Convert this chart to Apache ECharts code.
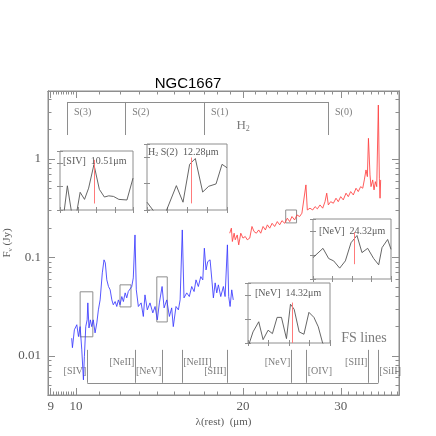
<!DOCTYPE html>
<html><head><meta charset="utf-8">
<script src="https://cdn.jsdelivr.net/npm/echarts@6/dist/echarts.min.js"></script>
<style>html,body{margin:0;padding:0;background:#fff}#c{width:436px;height:436px}</style>
</head><body><div id="c"></div>
<script>
// ---------------- data ----------------
const blueWave = [9.82,9.85,9.93,10.03,10.10,10.17,10.24,10.31,10.35,10.41,
  10.47,10.50,10.55,10.61,10.67,10.74,10.82,10.90,10.97,11.05,
  11.15,11.23,11.29,11.36,11.44,11.52,11.60,11.67,11.76,11.84,
  11.92,12.00,12.09,12.17,12.26,12.34,12.42,12.51,12.60,12.68,
  12.77,12.84,12.95,13.10,13.22,13.31,13.44,13.59,13.75,13.88,
  14.01,14.13,14.29,14.41,14.57,14.73,14.87,14.97,15.14,15.29,
  15.40,15.54,15.65,15.83,16.00,16.16,16.32,16.45,16.61,16.78,
  16.92,17.03,17.15,17.27,17.44,17.57,17.68,17.81,17.93,18.05,
  18.23,18.43,18.56,18.74,18.84,18.95,19.08,19.20];
const blueFlux = [0.0151,0.0121,0.0184,0.0207,0.0157,0.0198,0.0115,0.0057,0.0098,0.0198,
  0.0232,0.0345,0.0192,0.0232,0.0198,0.0232,0.0171,0.0216,0.0293,0.0370,
  0.0696,0.0944,0.0880,0.0591,0.0506,0.0468,0.0370,0.0330,0.0356,0.0317,
  0.0370,0.0330,0.0400,0.0356,0.0436,0.0388,0.0450,0.0436,0.0506,0.0619,
  0.169,0.0468,0.0317,0.0345,0.0251,0.0416,0.0293,0.0345,0.0273,0.0317,
  0.0232,0.0345,0.0506,0.0307,0.0370,0.0251,0.0307,0.0198,0.0317,0.0293,
  0.0370,0.190,0.0388,0.0436,0.0400,0.0506,0.0450,0.0591,0.0506,0.0638,
  0.0591,0.124,0.0746,0.0906,0.0944,0.0591,0.0388,0.0551,0.0436,0.0526,
  0.0400,0.0506,0.0400,0.134,0.0400,0.0317,0.0468,0.0370];
const redWave = [18.92,19.05,19.13,19.27,19.36,19.52,19.64,19.81,19.99,20.18,
  20.35,20.56,20.75,20.93,21.13,21.34,21.52,21.73,21.94,22.12,
  22.34,22.56,22.80,23.05,23.28,23.50,23.77,24.03,24.27,24.50,
  24.77,25.01,25.29,25.53,25.74,25.96,26.11,26.40,26.70,26.96,
  27.22,27.52,27.83,28.10,28.30,28.49,28.77,29.09,29.41,29.69,
  29.99,30.31,30.66,30.95,31.26,31.60,31.96,32.26,32.58,32.86,
  33.08,33.31,33.50,33.65,33.87,34.01,34.25,34.44,34.63,34.83,
  35.06,35.21,35.31,35.40];
const redFlux = [0.176,0.198,0.145,0.176,0.151,0.169,0.134,0.176,0.157,0.163,
  0.151,0.157,0.206,0.183,0.176,0.190,0.176,0.206,0.190,0.214,
  0.198,0.222,0.206,0.231,0.214,0.236,0.222,0.250,0.231,0.260,
  0.240,0.270,0.260,0.281,0.292,0.545,0.303,0.316,0.303,0.328,
  0.311,0.341,0.316,0.368,0.449,0.341,0.368,0.355,0.399,0.368,
  0.414,0.384,0.449,0.414,0.466,0.431,0.504,0.466,0.523,0.504,
  0.612,0.773,0.661,1.62,0.689,0.523,0.612,0.485,0.588,0.523,
  3.53,0.637,0.399,0.612];

const xMajorTicks = [9,10,20,30];
const xMinorTicks = [9.1,9.2,9.3,9.4,9.5,9.6,9.7,9.8,9.9,11,12,13,14,15,16,17,18,19,21,22,23,24,25,26,27,28,29,31,32,33,34,35,36,37,38];
const yMajorTicks = [0.01,0.1,1];
const yMinorTicks = [0.005,0.006,0.007,0.008,0.009,0.02,0.03,0.04,0.05,0.06,0.07,0.08,0.09,0.2,0.3,0.4,0.5,0.6,0.7,0.8,0.9,2,3,4];

const h2Names = ['S(3)','S(2)','S(1)','S(0)'];
const h2Waves = [9.63,12.26,17.01,28.45];
const fsNames = ['[SIV]','[NeII]','[NeV]','[NeIII]','[SIII]','[NeV]','[OIV]','[SIII]','[SiII]'];
const fsWaves = [10.48,12.79,14.31,15.54,18.74,24.43,26.04,33.63,35.06];

// zoomed regions marked on the spectrum: [λ1, λ2, F1, F2]
const zoomBoxes = [[10.17,10.72,0.0156,0.0447],[12.0,12.56,0.0314,0.0526],[13.98,14.6,0.0221,0.0634],[23.87,24.97,0.224,0.303]];

// inset spectra (relative units)
const sivX = [0,5.5,10.1,16.1,22.6,27.6,33.6,39.2,46.5,53.9,60.8,66.8,73.3,80.6,91.7,100];
const sivY = [-8,-4,41,-6,-6,30,18,37,77,35,22,24,23,18,17,54];
const h2s2X = [0,10.4,22.9,36.7,45,53.3,60.4,69.6,77.1,86.3,93.8,100];
const h2s2Y = [11.8,-5,-5,36.9,11.8,69.2,78,27.2,35.9,39.5,69.2,64];
const nev24X = [0,12.8,20.1,26.5,34.2,41.5,48.7,56.4,62.8,70.1,77.8,84.2,88.5,95.7,100];
const nev24Y = [35.7,51.1,34.1,30.2,18.1,30.2,60.4,72.5,44,51.1,34.1,23.6,52.2,65.9,49.5];
const nev14X = [1.2,6.1,13.1,18.4,24.5,29.8,35.5,40.8,46.9,51.8,56.3,62.4,68.2,74.3,80.4,85.7,91,95];
const nev14Y = [-2,18.5,35.4,5.6,21.3,15.7,42.7,42.7,7.3,64.6,56.2,18.5,14.6,51.1,42.7,27,0,-8];

// ---------------- styling/layout ----------------
const GRAY = '#8e8e8e';
const TXT = '#5a5a5a';
const SERIF = '"Liberation Serif","DejaVu Serif",serif';
const chart = echarts.init(document.getElementById('c'), null, {renderer:'canvas'});

function fmt(v){ return String(+(+v).toPrecision(3)); }
function logX(pos, ticks, len, labels){
  return {type:'log', gridIndex:0, position:pos, min:8.9, max:38.2, logBase:10,
    axisLine:{show:true, onZero:false, lineStyle:{color:GRAY}},
    axisTick:{show:true, inside:true, length:len, customValues:ticks, lineStyle:{color:GRAY}},
    axisLabel: labels ? {show:true, customValues:xMajorTicks, formatter:fmt, color:TXT, fontFamily:SERIF, fontSize:13, margin:5} : {show:false},
    splitLine:{show:false}, minorTick:{show:false}};
}
function logY(pos, ticks, len, labels){
  return {type:'log', gridIndex:0, position:pos, min:0.004, max:4.9, logBase:10,
    axisLine:{show:true, onZero:false, lineStyle:{color:GRAY}},
    axisTick:{show:true, inside:true, length:len, customValues:ticks, lineStyle:{color:GRAY}},
    axisLabel: labels ? {show:true, customValues:yMajorTicks, formatter:fmt, color:TXT, fontFamily:SERIF, fontSize:13, margin:7} : {show:false},
    splitLine:{show:false}, minorTick:{show:false}};
}
function insetAxis(gi, pos, interval){
  return {type:'value', gridIndex:gi, position:pos, min:0, max:100, interval:interval,
    axisLine:{show:false}, axisTick:{show:true, inside:true, length:3, lineStyle:{color:GRAY}},
    axisLabel:{show:false}, splitLine:{show:false}};
}

const insets = [
  {box:{left:60,top:151,width:73,height:59}, x:sivX, y:sivY, mark:[47.5,11,85], title:'[SIV]  10.51μm', tx:3, ty:5},
  {box:{left:147,top:144,width:80,height:66}, x:h2s2X, y:h2s2Y, mark:[55,10,79.5], title:'{n|H}{s|2}{n| S(2)  12.28μm}', tx:1, ty:3},
  {box:{left:313,top:219,width:78,height:60}, x:nev24X, y:nev24Y, mark:[53.4,24.7,78], title:'[NeV]  24.32μm', tx:6, ty:7},
  {box:{left:248,top:283,width:82,height:60}, x:nev14X, y:nev14Y, mark:[54.3,0,67.4], title:'[NeV]  14.32μm', tx:7, ty:5}
];

const grids = [{left:48, top:91, width:351, height:304, show:true, borderColor:GRAY, borderWidth:1, outerBoundsMode:'none', containLabel:false}];
const xAxes = [logX('bottom', xMajorTicks, 7, true), logX('bottom', xMinorTicks, 3.5, false),
               logX('top', xMajorTicks, 7, false), logX('top', xMinorTicks, 3.5, false)];
const yAxes = [logY('left', yMajorTicks, 7, true), logY('left', yMinorTicks, 3.5, false),
               logY('right', yMajorTicks, 7, false), logY('right', yMinorTicks, 3.5, false)];
xAxes[0].name = 'λ(rest)  (μm)';
xAxes[0].nameLocation = 'middle';
xAxes[0].nameGap = 22;
xAxes[0].nameMoveOverlap = false;
xAxes[0].nameTextStyle = {color:TXT, fontFamily:SERIF, fontSize:11};
yAxes[0].name = '{n|F}{s|ν}{n| (Jy)}';
yAxes[0].nameLocation = 'middle';
yAxes[0].nameGap = 34;
yAxes[0].nameMoveOverlap = false;
yAxes[0].nameTextStyle = {color:TXT, fontFamily:SERIF, rich:{n:{fontSize:11, color:TXT, fontFamily:SERIF}, s:{fontSize:7, color:TXT, fontFamily:SERIF, verticalAlign:'bottom', padding:[6,0,0,0]}}};

const series = [];
const graphics = [];
insets.forEach((ins, k) => {
  const gi = k + 1;
  grids.push(Object.assign({show:true, borderColor:GRAY, borderWidth:1, backgroundColor:'#fff', outerBoundsMode:'none', containLabel:false}, ins.box));
  const xi = xAxes.length, yi = yAxes.length;
  xAxes.push(insetAxis(gi, 'bottom', 25), insetAxis(gi, 'top', 25));
  yAxes.push(insetAxis(gi, 'left', 40), insetAxis(gi, 'right', 40));
  series.push({type:'line', xAxisIndex:xi, yAxisIndex:yi, data:ins.x.map((v,i)=>[v, ins.y[i]]),
    symbol:'none', clip:true, silent:true, lineStyle:{color:'#555', width:0.9},
    markLine:{silent:true, symbol:'none', label:{show:false}, lineStyle:{color:'#ff7b7b', width:1, type:'solid'},
      data:[[{coord:[ins.mark[0], ins.mark[1]]},{coord:[ins.mark[0], ins.mark[2]]}]]}});
  graphics.push({type:'text', left:ins.box.left + ins.tx, top:ins.box.top + ins.ty, z:100,
    style:{text:ins.title, fill:TXT, font:'10px ' + SERIF,
      rich:{n:{fontSize:10, fill:TXT, fontFamily:SERIF}, s:{fontSize:6, fill:TXT, fontFamily:SERIF, padding:[5,0,0,0]}}}});
});

// main spectrum
series.push({type:'line', name:'SL', xAxisIndex:0, yAxisIndex:0, data:blueWave.map((w,i)=>[w, blueFlux[i]]),
  symbol:'none', silent:true, lineStyle:{color:'#3a3aff', width:1, opacity:0.85},
  markArea:{silent:true, itemStyle:{color:'rgba(0,0,0,0)', borderColor:GRAY, borderWidth:1},
    data: zoomBoxes.map(b => [{coord:[b[0], b[3]]},{coord:[b[1], b[2]]}])}});
series.push({type:'line', name:'LL', xAxisIndex:0, yAxisIndex:0, data:redWave.map((w,i)=>[w, redFlux[i]]),
  symbol:'none', silent:true, lineStyle:{color:'#ff4040', width:1, opacity:0.85}});

// bracket annotations (data coordinates)
const H2_TOP = 3.79, H2_BOT = 1.75, FS_TOP = 0.0115, FS_BOT = 0.00532;
const h2Lines = [[{coord:[h2Waves[0], H2_TOP]},{coord:[h2Waves[3], H2_TOP]}]]
  .concat(h2Waves.map(w => [{coord:[w, H2_TOP]},{coord:[w, H2_BOT]}]));
const fsLines = [[{coord:[fsWaves[0], FS_BOT]},{coord:[fsWaves[fsWaves.length-1], FS_BOT]}]]
  .concat(fsWaves.map(w => [{coord:[w, FS_TOP]},{coord:[w, FS_BOT]}]));
series.push({type:'line', xAxisIndex:0, yAxisIndex:0, data:[], silent:true,
  markLine:{silent:true, symbol:'none', label:{show:false}, lineStyle:{color:GRAY, width:1, type:'solid'},
    data: h2Lines.concat(fsLines)}});

// labels
const fsUpper = {1:true, 3:true, 5:true, 7:true};
const fsRight = {3:true, 6:true, 8:true};
const labelStyle = {color:TXT, fontFamily:SERIF, fontSize:10};
const labelData = [];
h2Names.forEach((n,i) => labelData.push({value:[h2Waves[i], 3.0], label:Object.assign({show:true, formatter:n, position:'right', distance:7}, labelStyle)}));
fsNames.forEach((n,i) => labelData.push({value:[fsWaves[i], fsUpper[i] ? 0.0085 : 0.0069],
  label:Object.assign({show:true, formatter:n, position: fsRight[i] ? 'right' : 'left', distance:1}, labelStyle)}));
labelData.push({value:[20.0, 2.2], label:{show:true, position:'inside', formatter:'{n|H}{s|2}',
  rich:{n:{fontSize:13, color:TXT, fontFamily:SERIF}, s:{fontSize:8, color:TXT, fontFamily:SERIF, padding:[8,0,0,0]}}}});
labelData.push({value:[33.03, 0.0152], label:{show:true, position:'inside', formatter:'FS lines', color:TXT, fontFamily:SERIF, fontSize:14}});
series.push({type:'scatter', xAxisIndex:0, yAxisIndex:0, symbolSize:0, silent:true, data:labelData, itemStyle:{color:'rgba(0,0,0,0)'}});

graphics.push({type:'text', x:188, y:84, z:100,
  style:{text:'NGC1667', fill:'#000', font:'15px "Liberation Sans", Arial, sans-serif', align:'center', verticalAlign:'middle'}});

chart.setOption({
  animation:false,
  backgroundColor:'#fff',
  grid:grids, xAxis:xAxes, yAxis:yAxes, series:series, graphic:graphics
});
</script></body></html>
